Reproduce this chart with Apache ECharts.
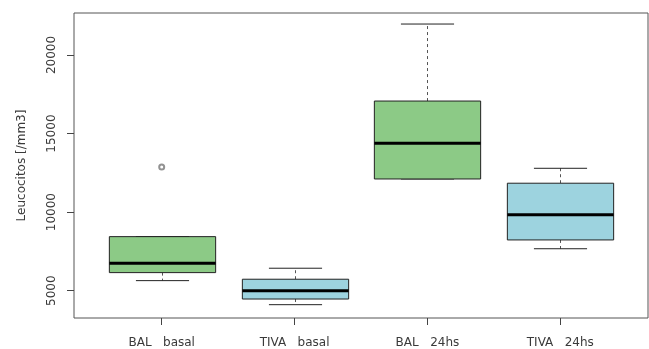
<!DOCTYPE html>
<html>
<head>
<meta charset="utf-8">
<script src="https://cdn.jsdelivr.net/npm/echarts@6/dist/echarts.min.js"></script>
<style>
  html, body { margin: 0; padding: 0; background: #fff; }
  #chart { width: 649px; height: 349px; }
</style>
</head>
<body>
<div id="chart"></div>
<script>
// Leukocyte counts per group: five-number summaries plus outliers
const groups = ['BAL   basal', 'TIVA   basal', 'BAL   24hs', 'TIVA   24hs'];
const whiskerLow  = [5640, 4110, 12110, 7670];
const lowerQuart  = [6150, 4470, 12110, 8230];
const medians     = [6740, 5000, 14380, 9840];
const upperQuart  = [8440, 5730, 17070, 11840];
const whiskerHigh = [8440, 6430, 21970, 12790];
const outlierGroup = [1];
const outlierValue = [12870];
const boxColors = ['#8cca86', '#9dd3df', '#8cca86', '#9dd3df'];
const yTicks = [5000, 10000, 15000, 20000];

const boxData = groups.map((g, i) => [i + 1, whiskerLow[i], lowerQuart[i], medians[i], upperQuart[i], whiskerHigh[i]]);
const outlierData = outlierGroup.map((g, i) => [g, outlierValue[i]]);

const FONT = '"DejaVu Sans", Verdana, sans-serif';
const TEXT = '#3a3a3a';

function renderBox(params, api) {
  const x = api.value(0);
  const lo = api.value(1), q1 = api.value(2), md = api.value(3), q3 = api.value(4), hi = api.value(5);
  const half = api.size([0.4, 0])[0];
  const capHalf = half / 2;
  const pLo = api.coord([x, lo]), pQ1 = api.coord([x, q1]), pMd = api.coord([x, md]);
  const pQ3 = api.coord([x, q3]), pHi = api.coord([x, hi]);
  const cx = Math.round(pMd[0]) + 0.5;
  const line = (x1, y1, x2, y2, style) => ({
    type: 'line',
    shape: { x1: x1, y1: y1, x2: x2, y2: y2 },
    style: Object.assign({ stroke: '#222', lineWidth: 1 }, style)
  });
  return {
    type: 'group',
    children: [
      line(cx, pQ3[1], cx, pHi[1], { lineDash: [3, 3], stroke: '#555' }),
      line(cx, pQ1[1], cx, pLo[1], { lineDash: [3, 3], stroke: '#555' }),
      line(cx - capHalf, pHi[1], cx + capHalf, pHi[1], {}),
      line(cx - capHalf, pLo[1], cx + capHalf, pLo[1], {}),
      {
        type: 'rect',
        shape: { x: cx - half, y: pQ3[1], width: half * 2, height: pQ1[1] - pQ3[1] },
        style: { fill: boxColors[params.dataIndex], stroke: '#222', lineWidth: 1 }
      },
      line(cx - half, pMd[1], cx + half, pMd[1], { lineWidth: 3, stroke: '#000' })
    ]
  };
}

const chart = echarts.init(document.getElementById('chart'), null, { renderer: 'canvas' });
chart.setOption({
  animation: false,
  backgroundColor: '#fff',
  grid: {
    left: 74, top: 13, width: 574, height: 305,
    show: true, borderColor: '#555', borderWidth: 1, backgroundColor: 'transparent'
  },
  xAxis: {
    type: 'value',
    min: 0.34, max: 4.66,
    splitLine: { show: false },
    axisLine: { show: false },
    axisTick: { show: true, length: 7, customValues: [1, 2, 3, 4], lineStyle: { color: '#444' } },
    axisLabel: {
      customValues: [1, 2, 3, 4],
      formatter: v => groups[Math.round(v) - 1],
      margin: 19, fontSize: 12, color: TEXT, fontFamily: FONT
    }
  },
  yAxis: {
    type: 'value',
    min: 3262, max: 22673,
    name: 'Leucocitos [/mm3]',
    nameLocation: 'middle', nameRotate: 90, nameGap: 46,
    nameTextStyle: { fontSize: 12, color: TEXT, fontFamily: FONT },
    splitLine: { show: false },
    axisLine: { show: false },
    axisTick: { show: true, length: 7, customValues: yTicks, lineStyle: { color: '#444' } },
    axisLabel: {
      customValues: yTicks,
      formatter: v => String(v),
      rotate: 90, margin: 16, fontSize: 12, color: TEXT, fontFamily: FONT,
      align: 'center', verticalAlign: 'bottom'
    }
  },
  series: [
    {
      type: 'custom',
      renderItem: renderBox,
      encode: { x: 0, y: [1, 2, 3, 4, 5] },
      data: boxData,
      z: 2
    },
    {
      type: 'scatter',
      data: outlierData,
      symbol: 'emptyCircle',
      symbolSize: 5,
      itemStyle: { color: '#777', borderColor: '#777', borderWidth: 1 },
      z: 3
    }
  ]
});
</script>
</body>
</html>
